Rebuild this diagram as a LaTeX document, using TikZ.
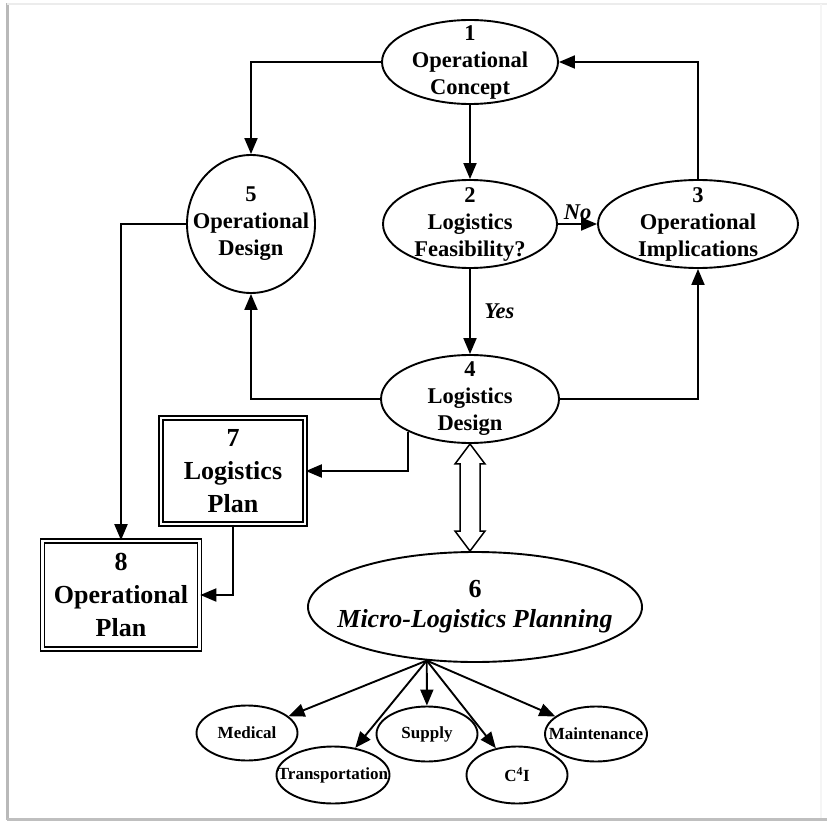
\documentclass[tikz,border=0pt]{standalone}
\usepackage{fontspec}
\setmainfont{Liberation Serif}
\usetikzlibrary{arrows.meta,shapes.geometric,positioning,calc}

\begin{document}
\begin{tikzpicture}[
            x = 1pt, y = -1pt, % picture units, y going down
            > = {Triangle[length=16pt,width=13pt]}, % arrow head style
            line width = 1.9pt, % line style
            bigell/.style = {ellipse, draw, inner sep=0pt},
            bigtxt/.style = {align=center, inner sep=0pt, font=\bfseries\fontsize{22.5}{27}\selectfont},
            smalltxt/.style = {inner sep=0pt, font=\bfseries\fontsize{17}{19}\selectfont},
            smallell/.style = {ellipse, draw, inner sep=0pt, minimum width=101pt, minimum height=55pt},
            planbox/.style = {rectangle, draw, double, double distance=2.5pt, line width=1.6pt,
                              align=center, inner sep=0pt, font=\bfseries\fontsize{26}{33}\selectfont}
        ]

	% page frame
	\useasboundingbox (0,0) rectangle (827,821);
	\draw[gray!55, line width=3pt] (7,3) -- (7,820);
	\draw[gray!50, line width=2.5pt] (7,819.5) -- (827,819.5);
	\draw[gray!15, line width=2pt] (7,4) -- (827,4);
	\draw[gray!8, line width=2pt] (821,4) -- (821,818);

	\node[bigell, minimum width=176pt, minimum height=84pt, label={[bigtxt]center:1\\Operational\\Concept}] (oc) at (470,62) {};
	\node[bigell, minimum width=174pt, minimum height=88pt, label={[bigtxt]center:2\\Logistics\\Feasibility?}] (lf) at (470,224) {};
	\node[bigell, minimum width=200pt, minimum height=88pt, label={[bigtxt]center:3\\Operational\\Implications}] (oi) at (698,224) {};
	\node[bigell, minimum width=178pt, minimum height=88pt, label={[bigtxt]center:4\\Logistics\\Design}] (ld) at (470,399) {};
	\node[bigell, minimum width=128pt, minimum height=138pt, label={[bigtxt]center:5\\Operational\\Design}] (od) at (251,224) {};
	\node[bigell, minimum width=334pt, minimum height=110pt,
	      label={[bigtxt, font=\bfseries\fontsize{26}{30}\selectfont]center:6\\\textit{Micro-Logistics Planning}}] (mlp) at (475,607) {};

	\node[planbox, minimum width=144pt, minimum height=106pt] (lp) at (233,471) {7\\Logistics\\Plan};
	\node[planbox, minimum width=157pt, minimum height=108pt] (op) at (121,595) {8\\Operational\\Plan};

	\node[smallell, label={[smalltxt]center:Medical}] (med) at (247,733) {};
	\node[smallell, minimum width=113pt, minimum height=57pt, label={[smalltxt]center:Transportation}] (trans) at (333,775) {};
	\node[smallell, label={[smalltxt]center:Supply}] (sup) at (427,734) {};
	\node[smallell, minimum height=57pt, label={[smalltxt]center:C\textsuperscript{4}I}] (cfi) at (517,775) {};
	\node[smallell, minimum width=102pt, label={[smalltxt]center:Maintenance}] (maint) at (596,734) {};

	\draw[->] (oc) -- (lf);
	\draw[->] (lf) -- node[above, font=\bfseries\itshape\fontsize{22.5}{27}\selectfont] (no) {No} (oi);
	\draw[->] (oi.north) |- (oc.east);
	\draw[->] (lf) -- node[right=10pt, font=\bfseries\itshape\fontsize{22.5}{27}\selectfont] (yes) {Yes} (ld);
	\draw[->] (ld.west) -| (od.south);
	\draw[->] (oc.west) -| (od.north);
	\draw[->] (ld.east) -| (oi.south);
	\draw[->] (od.west) -| (op.north);
	\draw[->] (ld.208) |- (lp.east);
	\draw[->] (lp.south) |- (op.east);

	% hollow two-way arrow
	\draw[fill=white, line width=1.5pt] (ld.south) -- ++(15,20) -- ++(-5,0)
	   -- ($(ld.south |- mlp.north)+(10,-20)$) -- ++(5,0) -- (ld.south |- mlp.north)
	   -- ++(-15,-20) -- ++(5,0) -- ($(ld.south)+(-10,20)$) -- ++(-5,0) -- cycle;

	\coordinate (fan) at (mlp.228);
	\draw[->] (fan) -- (med);
	\draw[->] (fan) -- (trans);
	\draw[->] (fan) -- (sup);
	\draw[->] (fan) -- (cfi);
	\draw[->] (fan) -- (maint);

\end{tikzpicture}
\end{document}
